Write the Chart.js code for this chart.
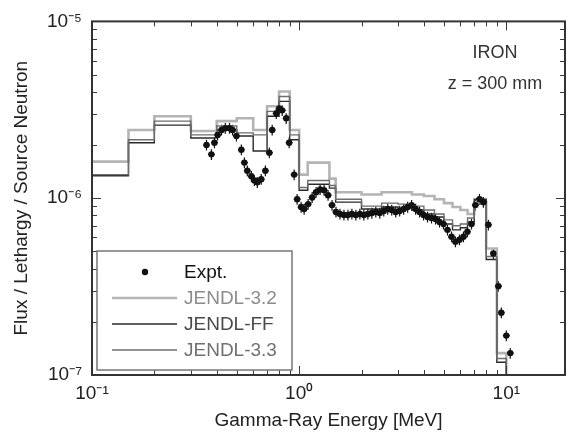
<!DOCTYPE html>
<html><head><meta charset="utf-8">
<script src="https://cdn.jsdelivr.net/npm/chart.js@4.4.1/dist/chart.umd.min.js"></script>
<style>html,body{margin:0;padding:0;background:#fff}#wrap{width:569px;height:436px;position:relative}</style>
</head><body><div id="wrap"><canvas id="c" width="569" height="436"></canvas></div>
<script>
// ---- data (MeV, flux/lethargy/source neutron) ----
const binEdges = [0.1, 0.15, 0.2, 0.3, 0.4, 0.5, 0.6, 0.7, 0.8, 0.9, 1.0, 1.1, 1.4, 1.5, 2.0, 2.5, 3.0, 3.5, 4.0, 4.5, 5.0, 5.5, 6.0, 6.5, 7.0, 8.0, 9.0, 10.0];
const jendl32 = [1.61e-6, 2.43e-6, 2.91e-6, 2.40e-6, 2.73e-6, 2.83e-6, 2.43e-6, 3.31e-6, 4.01e-6, 2.43e-6, 1.36e-6, 1.59e-6, 1.29e-6, 1.08e-6, 1.05e-6, 1.08e-6, 1.08e-6, 1.05e-6, 1.03e-6, 9.87e-7, 9.38e-7, 8.91e-7, 8.57e-7, 8.14e-7, 9.50e-7, 5.19e-7, 1.33e-7];
const jendlFF = [1.34e-6, 2.06e-6, 2.59e-6, 2.19e-6, 2.43e-6, 2.25e-6, 1.85e-6, 2.91e-6, 3.53e-6, 2.14e-6, 1.11e-6, 1.20e-6, 1.14e-6, 9.50e-7, 8.68e-7, 8.91e-7, 8.79e-7, 8.57e-7, 8.14e-7, 7.83e-7, 7.15e-7, 6.62e-7, 6.80e-7, 7.34e-7, 9.87e-7, 4.50e-7, 1.18e-7];
const jendl33 = [1.36e-6, 2.14e-6, 2.73e-6, 2.28e-6, 2.56e-6, 2.34e-6, 2.28e-6, 3.10e-6, 3.76e-6, 2.28e-6, 1.15e-6, 1.26e-6, 1.18e-6, 9.87e-7, 9.02e-7, 9.38e-7, 9.26e-7, 9.02e-7, 8.57e-7, 8.14e-7, 7.54e-7, 6.98e-7, 7.15e-7, 7.73e-7, 9.26e-7, 4.68e-7, 1.24e-7];
const exptEnergy = [0.357, 0.377, 0.390, 0.404, 0.422, 0.440, 0.461, 0.477, 0.498, 0.526, 0.544, 0.562, 0.588, 0.608, 0.628, 0.656, 0.687, 0.718, 0.741, 0.775, 0.801, 0.828, 0.866, 0.895, 0.946, 0.978, 1.022, 1.057, 1.105, 1.155, 1.207, 1.262, 1.319, 1.379, 1.441, 1.506, 1.574, 1.645, 1.720, 1.797, 1.878, 1.964, 2.053, 2.146, 2.243, 2.344, 2.450, 2.561, 2.677, 2.798, 2.925, 3.057, 3.195, 3.340, 3.491, 3.649, 3.814, 3.987, 4.167, 4.356, 4.553, 4.759, 4.975, 5.20, 5.44, 5.68, 5.94, 6.21, 6.49, 6.79, 7.09, 7.42, 7.75, 8.19, 8.66, 9.15, 9.46, 10.0, 10.45];
const exptFlux = [2.00e-6, 1.77e-6, 2.06e-6, 2.28e-6, 2.43e-6, 2.49e-6, 2.49e-6, 2.43e-6, 2.25e-6, 1.88e-6, 1.59e-6, 1.43e-6, 1.33e-6, 1.26e-6, 1.23e-6, 1.28e-6, 1.43e-6, 1.81e-6, 2.43e-6, 3.02e-6, 3.22e-6, 3.14e-6, 2.83e-6, 2.06e-6, 1.36e-6, 9.87e-7, 8.91e-7, 8.68e-7, 9.26e-7, 1.01e-6, 1.08e-6, 1.12e-6, 1.11e-6, 1.04e-6, 9.14e-7, 8.35e-7, 8.14e-7, 8.04e-7, 8.04e-7, 8.14e-7, 8.04e-7, 8.14e-7, 8.04e-7, 8.14e-7, 8.24e-7, 8.35e-7, 8.24e-7, 8.46e-7, 8.68e-7, 8.57e-7, 8.35e-7, 8.46e-7, 8.68e-7, 8.91e-7, 9.14e-7, 8.68e-7, 8.35e-7, 8.04e-7, 7.83e-7, 7.73e-7, 7.63e-7, 7.34e-7, 7.15e-7, 6.62e-7, 6.05e-7, 5.68e-7, 5.83e-7, 6.05e-7, 6.46e-7, 7.15e-7, 9.14e-7, 9.87e-7, 9.50e-7, 7.07e-7, 4.87e-7, 3.18e-7, 2.25e-7, 1.67e-7, 1.33e-7];
const exptRelErr = 0.07;
const xMajorTicks = [0.1, 1, 10];
const xTickLabels = ['10\u207B\u00B9', '10\u2070', '10\u00B9'];
const yMajorTicks = [1e-7, 1e-6, 1e-5];
const yTickLabels = ['10\u207B\u2077', '10\u207B\u2076', '10\u207B\u2075'];
const seriesNames = ['Expt.', 'JENDL-3.2', 'JENDL-FF', 'JENDL-3.3'];
const X_MIN = 0.1, X_MAX = 19.2, Y_MIN = 1e-7, Y_MAX = 1e-5;

const FONT = "'Liberation Sans', Arial, Helvetica, sans-serif";
const styles = {
  j32: {color: '#b4b4b4', width: 2.6},
  jff: {color: '#2a2a2a', width: 1.4},
  j33: {color: '#6e6e6e', width: 1.4}
};

function histPoints(vals) {
  const pts = binEdges.map((e, i) => ({x: e, y: vals[Math.max(0, Math.min(i - 1, vals.length - 1))]}));
  pts.push({x: binEdges[binEdges.length - 1], y: Y_MIN});
  return pts;
}
function logTicks(lo, hi) {
  const out = [];
  for (let d = Math.floor(Math.log10(lo)); d <= Math.ceil(Math.log10(hi)); d++) {
    for (let m = 1; m <= 9; m++) {
      const v = m * Math.pow(10, d);
      if (v >= lo * 0.999 && v <= hi * 1.001) out.push(v);
    }
  }
  return out;
}
function isDecade(v) { const l = Math.log10(v); return Math.abs(l - Math.round(l)) < 1e-6; }
function majorLabel(v, majors, labels) {
  for (let i = 0; i < majors.length; i++) if (Math.abs(Math.log10(v) - Math.log10(majors[i])) < 1e-6) return labels[i];
  return '';
}

const framePlugin = {
  id: 'frame',
  afterDatasetsDraw(chart) {
    const {ctx, chartArea: a, scales: {x, y}} = chart;
    ctx.save();
    ctx.strokeStyle = '#3a3a3a';
    ctx.lineWidth = 1;
    ctx.beginPath();
    logTicks(X_MIN, X_MAX).forEach(v => {
      const px = Math.round(x.getPixelForValue(v)) + 0.5;
      const L = isDecade(v) ? 9 : 5;
      ctx.moveTo(px, a.bottom); ctx.lineTo(px, a.bottom - L);
      ctx.moveTo(px, a.top); ctx.lineTo(px, a.top + L);
    });
    logTicks(Y_MIN, Y_MAX).forEach(v => {
      const py = Math.round(y.getPixelForValue(v)) + 0.5;
      const L = isDecade(v) ? 9 : 5;
      ctx.moveTo(a.left, py); ctx.lineTo(a.left + L, py);
      ctx.moveTo(a.right, py); ctx.lineTo(a.right - L, py);
    });
    ctx.stroke();
    ctx.lineWidth = 2;
    ctx.strokeStyle = '#333';
    ctx.strokeRect(a.left, a.top, a.right - a.left, a.bottom - a.top);
    ctx.restore();
  }
};

const errorBarPlugin = {
  id: 'errbars',
  beforeDatasetsDraw(chart) {
    const {ctx, scales: {x, y}} = chart;
    ctx.save();
    ctx.strokeStyle = '#111';
    ctx.lineWidth = 1.2;
    ctx.beginPath();
    exptEnergy.forEach((e, i) => {
      const px = x.getPixelForValue(e);
      const y0 = y.getPixelForValue(exptFlux[i] * (1 - exptRelErr));
      const y1 = y.getPixelForValue(exptFlux[i] * (1 + exptRelErr));
      const py = y.getPixelForValue(exptFlux[i]);
      ctx.moveTo(px, y0); ctx.lineTo(px, y1);
      ctx.moveTo(px - 3.5, py); ctx.lineTo(px + 3.5, py);
    });
    ctx.stroke();
    ctx.restore();
  }
};

const legendPlugin = {
  id: 'customLegend',
  afterDraw(chart) {
    const ctx = chart.ctx;
    ctx.save();
    ctx.fillStyle = '#fff';
    ctx.fillRect(97, 251, 195, 119);
    ctx.strokeStyle = '#777';
    ctx.lineWidth = 1.5;
    ctx.strokeRect(97, 251, 195, 119);
    ctx.font = '19px ' + FONT;
    ctx.textBaseline = 'middle';
    ctx.textAlign = 'left';
    ctx.fillStyle = '#111';
    ctx.beginPath(); ctx.arc(145, 272, 3.2, 0, Math.PI * 2); ctx.fill();
    ctx.fillText(seriesNames[0], 184, 273);
    const rows = [
      {s: styles.j32, y: 298, txt: seriesNames[1], tc: '#8c8c8c'},
      {s: styles.jff, y: 324, txt: seriesNames[2], tc: '#4a4a4a'},
      {s: styles.j33, y: 350, txt: seriesNames[3], tc: '#707070'}
    ];
    rows.forEach(r => {
      ctx.strokeStyle = r.s.color; ctx.lineWidth = r.s.width;
      ctx.beginPath(); ctx.moveTo(112, r.y); ctx.lineTo(177, r.y); ctx.stroke();
      ctx.fillStyle = r.tc;
      ctx.fillText(r.txt, 184, r.y + 1);
    });
    ctx.fillStyle = '#333';
    ctx.textAlign = 'center';
    ctx.font = '18px ' + FONT;
    ctx.fillText('IRON', 495, 53);
    ctx.fillText('z = 300 mm', 495, 84);
    ctx.restore();
  }
};

new Chart(document.getElementById('c'), {
  type: 'line',
  data: {
    datasets: [
      {
        label: seriesNames[0],
        data: exptEnergy.map((e, i) => ({x: e, y: exptFlux[i]})),
        showLine: false, pointRadius: 3.2, pointBackgroundColor: '#111', pointBorderWidth: 0,
        pointStyle: 'circle'
      },
      {label: seriesNames[3], data: histPoints(jendl33), stepped: 'after', borderColor: styles.j33.color, borderWidth: styles.j33.width, pointRadius: 0, fill: false},
      {label: seriesNames[2], data: histPoints(jendlFF), stepped: 'after', borderColor: styles.jff.color, borderWidth: styles.jff.width, pointRadius: 0, fill: false},
      {label: seriesNames[1], data: histPoints(jendl32), stepped: 'after', borderColor: styles.j32.color, borderWidth: styles.j32.width, pointRadius: 0, fill: false}
    ]
  },
  options: {
    responsive: false,
    animation: false,
    devicePixelRatio: 1,
    layout: {padding: {top: 17, right: 2, left: 0, bottom: 0}},
    plugins: {legend: {display: false}, tooltip: {enabled: false}},
    scales: {
      x: {
        type: 'logarithmic', min: X_MIN, max: X_MAX,
        grid: {display: false, drawTicks: false}, border: {display: false},
        afterBuildTicks: s => { s.ticks = logTicks(X_MIN, X_MAX).map(v => ({value: v})); },
        afterFit: s => { s.height = 61; },
        ticks: {
          autoSkip: false, maxRotation: 0, padding: 7, color: '#222',
          font: {family: FONT, size: 19},
          callback: v => majorLabel(v, xMajorTicks, xTickLabels)
        },
        title: {display: true, text: 'Gamma-Ray Energy [MeV]', color: '#222', font: {family: FONT, size: 19}, padding: {top: 0, bottom: 4}}
      },
      y: {
        type: 'logarithmic', min: Y_MIN, max: Y_MAX,
        grid: {display: false, drawTicks: false}, border: {display: false},
        afterBuildTicks: s => { s.ticks = logTicks(Y_MIN, Y_MAX).map(v => ({value: v})); },
        afterFit: s => { s.width = 92; },
        ticks: {
          autoSkip: false, padding: 10, color: '#222',
          font: {family: FONT, size: 19},
          callback: v => majorLabel(v, yMajorTicks, yTickLabels)
        },
        title: {display: true, text: 'Flux / Lethargy / Source Neutron', color: '#222', font: {family: FONT, size: 19}, padding: {top: 10, bottom: 0}}
      }
    }
  },
  plugins: [errorBarPlugin, framePlugin, legendPlugin]
});
</script>
</body></html>
